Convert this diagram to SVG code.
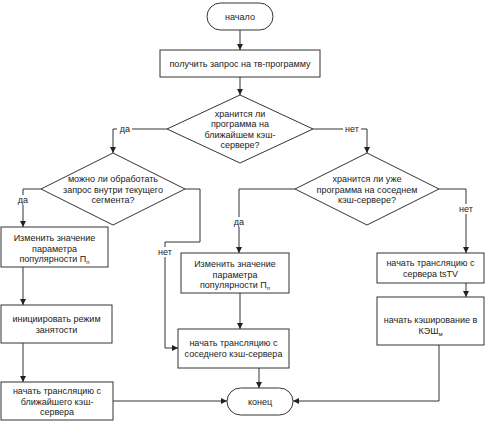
<svg xmlns="http://www.w3.org/2000/svg" width="491" height="421" viewBox="0 0 491 421">
<style>
.s{fill:#fff;stroke:#333;stroke-width:1}
.c{fill:none;stroke:#333;stroke-width:1}
text{font-family:"Liberation Sans",Arial,sans-serif;font-size:9px;fill:#222;text-anchor:middle}
.lb{fill:#fff;stroke:none}
</style>
<defs>
<marker id="a" viewBox="0 0 10 10" refX="10" refY="5" markerWidth="6" markerHeight="6" orient="auto" markerUnits="userSpaceOnUse">
<path d="M0,0 L10,5 L0,10 z" fill="#222"/>
</marker>
</defs>
<rect width="491" height="421" fill="#fff"/>
<g id="connectors">
<path class="c" d="M240,30 V50" marker-end="url(#a)"/>
<path class="c" d="M240,77 V95" marker-end="url(#a)"/>
<path class="c" d="M167,129 H113 V153" marker-end="url(#a)"/>
<path class="c" d="M313,129 H367 V153" marker-end="url(#a)"/>
<path class="c" d="M41,189 H23 V227" marker-end="url(#a)"/>
<path class="c" d="M185,189 H200 V242 H165 V348 H178" marker-end="url(#a)"/>
<path class="c" d="M23,267 V305" marker-end="url(#a)"/>
<path class="c" d="M23,343 V382" marker-end="url(#a)"/>
<path class="c" d="M113,401 H227" marker-end="url(#a)"/>
<path class="c" d="M295,189 H239 V253" marker-end="url(#a)"/>
<path class="c" d="M439,189 H466 V253" marker-end="url(#a)"/>
<path class="c" d="M240,293 V329" marker-end="url(#a)"/>
<path class="c" d="M259,368 V388" marker-end="url(#a)"/>
<path class="c" d="M466,283 V297" marker-end="url(#a)"/>
<path class="c" d="M439,345 V401 H293" marker-end="url(#a)"/>
<rect class="lb" x="117" y="124" width="15" height="10"/><text x="125" y="132">да</text>
<rect class="lb" x="343" y="124" width="18" height="10"/><text x="352" y="132">нет</text>
<rect class="lb" x="16" y="195" width="15" height="10"/><text x="23" y="203">да</text>
<rect class="lb" x="156" y="247" width="18" height="10"/><text x="165" y="255">нет</text>
<rect class="lb" x="232" y="217" width="15" height="10"/><text x="239" y="225">да</text>
<rect class="lb" x="457" y="204" width="18" height="10"/><text x="466" y="212">нет</text>
</g>
<g id="start"><rect class="s" x="207" y="3" width="66" height="27" rx="13.5"/><text x="240" y="19.5">начало</text></g>
<g id="request"><rect class="s" x="160" y="50" width="160" height="27"/><text x="240" y="66.5">получить запрос на тв-программу</text></g>
<g id="d1"><path class="s" d="M240,95 L313,129 L240,163 L167,129 Z"/>
<text x="240" y="116.5">хранится ли</text><text x="240" y="127">программа на</text><text x="240" y="137.5">ближайшем кэш-</text><text x="240" y="148">сервере?</text></g>
<g id="d2"><path class="s" d="M113,153 L185,189 L113,225 L41,189 Z"/>
<text x="113" y="182">можно ли обработать</text><text x="113" y="192.5">запрос внутри текущего</text><text x="113" y="203">сегмента?</text></g>
<g id="d3"><path class="s" d="M367,153 L439,189 L367,225 L295,189 Z"/>
<text x="367" y="182">хранится ли уже</text><text x="367" y="192.5">программа на соседнем</text><text x="367" y="203">кэш-сервере?</text></g>
<g id="l1"><rect class="s" x="1" y="227" width="107" height="40"/>
<text x="54.5" y="241">Изменить значение</text><text x="54.5" y="251.5">параметра</text><text x="54.5" y="262">популярности П<tspan font-size="6" dy="2">п</tspan></text></g>
<g id="l2"><rect class="s" x="1" y="305" width="111" height="38"/>
<text x="56.5" y="322">инициировать режим</text><text x="56.5" y="333">занятости</text></g>
<g id="l3"><rect class="s" x="1" y="382" width="112" height="38"/>
<text x="57" y="394">начать трансляцию с</text><text x="57" y="404.5">ближайшего кэш-</text><text x="57" y="415">сервера</text></g>
<g id="m1"><rect class="s" x="181" y="253" width="108" height="40"/>
<text x="235" y="267">Изменить значение</text><text x="235" y="277.5">параметра</text><text x="235" y="288">популярности П<tspan font-size="6" dy="2">п</tspan></text></g>
<g id="m2"><rect class="s" x="178" y="329" width="111" height="39"/>
<text x="233.5" y="346">начать трансляцию с</text><text x="233.5" y="357">соседнего кэш-сервера</text></g>
<g id="r1"><rect class="s" x="377" y="253" width="107" height="30"/>
<text x="430.5" y="266">начать трансляцию с</text><text x="430.5" y="277">сервера tsTV</text></g>
<g id="r2"><rect class="s" x="377" y="297" width="107" height="48"/>
<text x="430.5" y="323">начать кэширование в</text><text x="430.5" y="333.5">КЭШ<tspan font-size="6" dy="2">м</tspan></text></g>
<g id="end"><rect class="s" x="227" y="388" width="66" height="27" rx="13.5"/><text x="260" y="404.5">конец</text></g>
</svg>
